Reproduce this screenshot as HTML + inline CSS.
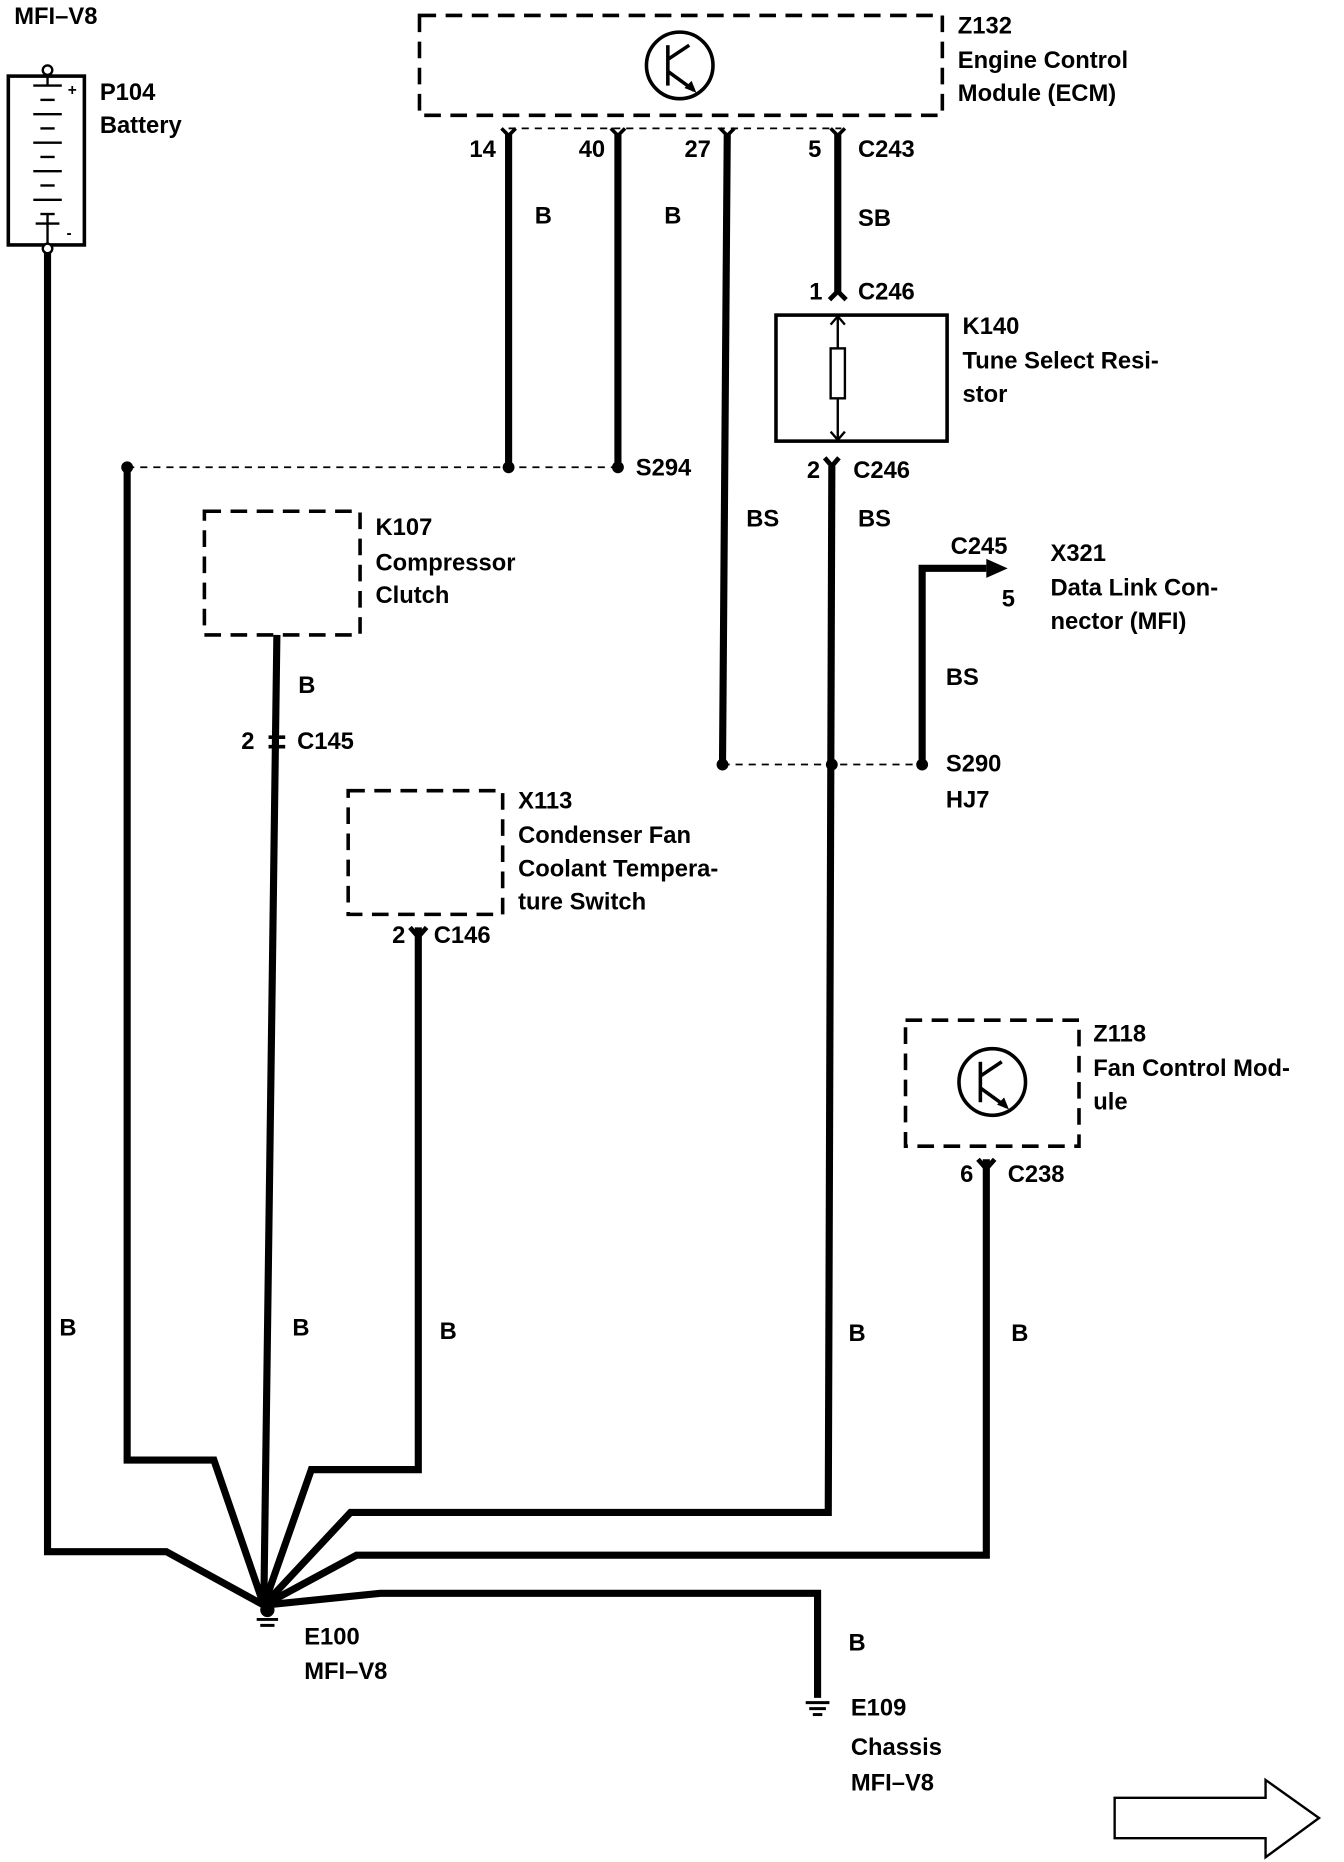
<!DOCTYPE html>
<html><head><meta charset="utf-8"><style>
html,body{margin:0;padding:0;background:#fff;}
svg{display:block;}
text{font-family:"Liberation Sans",sans-serif;font-weight:bold;font-size:20px;fill:#000;}
</style></head><body>
<svg width="1344" height="1862" viewBox="0 0 1131 1566" preserveAspectRatio="none" xmlns="http://www.w3.org/2000/svg">
<rect width="1131" height="1566" fill="#fff"/>
<g fill="none" stroke="#000">
<rect x="7" y="64" width="64" height="142" stroke-width="3"/>
<circle cx="40" cy="59" r="4" stroke-width="2" fill="#fff"/>
<circle cx="40" cy="209" r="4" stroke-width="2" fill="#fff"/>
<g stroke-width="2">
<line x1="40" y1="63" x2="40" y2="72"/><line x1="28" y1="72" x2="52" y2="72"/>
<line x1="34" y1="84" x2="46" y2="84"/><line x1="28" y1="96" x2="52" y2="96"/>
<line x1="34" y1="108" x2="46" y2="108"/><line x1="28" y1="120" x2="52" y2="120"/>
<line x1="34" y1="132" x2="46" y2="132"/><line x1="28" y1="144" x2="52" y2="144"/>
<line x1="34" y1="156" x2="46" y2="156"/><line x1="28" y1="168" x2="52" y2="168"/>
<line x1="34" y1="180" x2="46" y2="180"/><line x1="40" y1="180" x2="40" y2="205"/>
<line x1="30" y1="188" x2="50" y2="188"/>
</g>
<rect x="353" y="13" width="440" height="84" stroke-width="3" stroke-dasharray="14,8"/>
<circle cx="572" cy="55" r="28" stroke-width="3"/>
<g stroke-width="3"><line x1="562" y1="38" x2="562" y2="72"/><line x1="562" y1="50" x2="580" y2="38"/><line x1="562" y1="60" x2="584" y2="76"/></g>
<line x1="428" y1="108" x2="708" y2="108" stroke-width="1.5" stroke-dasharray="6,5"/>
<g stroke-width="6">
<line x1="428" y1="112" x2="428" y2="393"/>
<line x1="520" y1="112" x2="520" y2="393"/>
<line x1="612" y1="112" x2="608" y2="643"/>
<line x1="705" y1="112" x2="705" y2="246"/>
<polyline points="40,212 40,1305 140,1305 222,1350"/>
<polyline points="107,393 107,1228 180,1228 222,1350"/>
<polyline points="233,534 222,1350"/>
<polyline points="352,780 352,1236 262,1236 222,1350"/>
<polyline points="700,392 697,1272 295,1272 222,1350"/>
<polyline points="830,975 830,1308 300,1308 222,1350"/>
<polyline points="222,1350 320,1340 688,1340 688,1428"/>
<polyline points="776,643 776,478 830,478"/>
</g>
<path d="M422,108 L428,114 L434,108 M514,108 L520,114 L526,108 M606,108 L612,114 L618,108 M699,108 L705,114 L711,108" stroke-width="3"/>
<rect x="653" y="265" width="144" height="106" stroke-width="3"/>
<line x1="705" y1="265" x2="705" y2="371" stroke-width="2"/>
<rect x="699" y="293" width="12" height="42" stroke-width="2" fill="#fff"/>
<path d="M699,273 L705,266 L711,273 M699,363 L705,370 L711,363" stroke-width="2"/>
<path d="M698,252 L705,245 L712,252 M694,385 L700,392 L706,385" stroke-width="4"/>
<line x1="107" y1="393" x2="520" y2="393" stroke-width="1.5" stroke-dasharray="6,5"/>
<line x1="608" y1="643" x2="776" y2="643" stroke-width="1.5" stroke-dasharray="6,5"/>
<rect x="172" y="430" width="131" height="104" stroke-width="3" stroke-dasharray="14,8"/>
<path d="M226,620 L240,620 M226,628 L240,628" stroke-width="3"/>
<rect x="293" y="665" width="130" height="104" stroke-width="3" stroke-dasharray="14,8"/>
<path d="M345,780 L352,788 L359,780" stroke-width="4"/>
<rect x="762" y="858" width="146" height="106" stroke-width="3" stroke-dasharray="14,8"/>
<circle cx="835" cy="910" r="28" stroke-width="3"/>
<g stroke-width="3"><line x1="825" y1="893" x2="825" y2="927"/><line x1="825" y1="905" x2="843" y2="893"/><line x1="825" y1="915" x2="847" y2="931"/></g>
<path d="M823,975 L830,983 L837,975" stroke-width="4"/>
<path d="M938,1512 L1065,1512 L1065,1497 L1110,1529 L1065,1562 L1065,1546 L938,1546 Z" stroke-width="2"/>
</g>
<g fill="#000">
<circle cx="107" cy="393" r="5"/><circle cx="428" cy="393" r="5"/><circle cx="520" cy="393" r="5"/>
<circle cx="608" cy="643" r="5"/><circle cx="700" cy="643" r="5"/><circle cx="776" cy="643" r="5"/>
<path d="M830,470 L848,478 L830,486 Z"/>
<circle cx="225" cy="1354" r="6"/>
<path d="M586,78 L576,74 L582,68 Z"/>
<path d="M849,933 L839,929 L845,923 Z"/>
</g>
<g stroke="#000" stroke-width="2.5">
<line x1="216" y1="1362" x2="234" y2="1362"/><line x1="219" y1="1367" x2="231" y2="1367"/>
<line x1="678" y1="1432" x2="698" y2="1432"/><line x1="681" y1="1437" x2="695" y2="1437"/><line x1="684" y1="1442" x2="692" y2="1442"/>
</g>
<text x="12" y="20">MFI–V8</text>
<text x="57" y="80" style="font-size:13px">+</text><text x="56" y="200" style="font-size:13px">-</text>
<text x="84" y="84">P104</text><text x="84" y="112">Battery</text>
<text x="806" y="28">Z132</text><text x="806" y="57">Engine Control</text><text x="806" y="85">Module (ECM)</text>
<text x="395" y="132">14</text><text x="487" y="132">40</text><text x="576" y="132">27</text><text x="680" y="132">5</text><text x="722" y="132">C243</text>
<text x="450" y="188">B</text><text x="559" y="188">B</text><text x="722" y="190">SB</text>
<text x="681" y="252">1</text><text x="722" y="252">C246</text>
<text x="810" y="281">K140</text><text x="810" y="310">Tune Select Resi-</text><text x="810" y="338">stor</text>
<text x="679" y="402">2</text><text x="718" y="402">C246</text>
<text x="535" y="400">S294</text>
<text x="628" y="443">BS</text><text x="722" y="443">BS</text>
<text x="316" y="450">K107</text><text x="316" y="480">Compressor</text><text x="316" y="507">Clutch</text>
<text x="251" y="583">B</text><text x="203" y="630">2</text><text x="250" y="630">C145</text>
<text x="800" y="466">C245</text><text x="843" y="510">5</text>
<text x="884" y="472">X321</text><text x="884" y="501">Data Link Con-</text><text x="884" y="529">nector (MFI)</text>
<text x="796" y="576">BS</text>
<text x="796" y="649">S290</text><text x="796" y="679">HJ7</text>
<text x="436" y="680">X113</text><text x="436" y="709">Condenser Fan</text><text x="436" y="737">Coolant Tempera-</text><text x="436" y="765">ture Switch</text>
<text x="330" y="793">2</text><text x="365" y="793">C146</text>
<text x="920" y="876">Z118</text><text x="920" y="905">Fan Control Mod-</text><text x="920" y="933">ule</text>
<text x="808" y="994">6</text><text x="848" y="994">C238</text>
<text x="50" y="1123">B</text><text x="246" y="1123">B</text><text x="370" y="1126">B</text><text x="714" y="1128">B</text><text x="851" y="1128">B</text>
<text x="256" y="1383">E100</text><text x="256" y="1412">MFI–V8</text>
<text x="714" y="1388">B</text>
<text x="716" y="1443">E109</text><text x="716" y="1476">Chassis</text><text x="716" y="1506">MFI–V8</text>
</svg>
</body></html>
